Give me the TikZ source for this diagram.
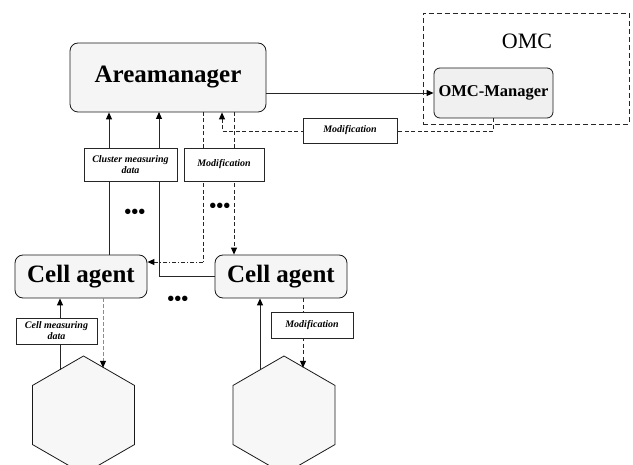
\documentclass[tikz,border=0pt]{standalone}
\usepackage{fontspec}
\setmainfont{Liberation Serif}
\usetikzlibrary{arrows.meta,shapes.geometric,calc}
\begin{document}
\begin{tikzpicture}[x=1pt,y=-1pt,
  box/.style={draw=black!90, line width=0.8pt, rounded corners=8pt, fill=black!4, inner sep=1pt},
  bigfont/.style={font=\fontsize{25}{28}\selectfont\bfseries},
  lbl/.style={draw=black!85, line width=0.8pt, fill=white, font=\fontsize{10}{11}\selectfont\bfseries\itshape, align=center, inner sep=1pt},
  solidline/.style={draw=black!85, line width=0.9pt},
  dashline/.style={draw=black!85, line width=0.9pt, dash pattern=on 4pt off 2.5pt},
  graydash/.style={draw=black!45, line width=0.9pt, dash pattern=on 4pt off 2pt},
  dashdotline/.style={draw=black!85, line width=0.9pt, dash pattern=on 4pt off 2pt on 1pt off 2pt},
  tip/.style={-{Triangle[length=7pt,width=6pt,color=black]}},
  hexa/.style={regular polygon, regular polygon sides=6, shape border rotate=30, minimum size=118pt, draw=black!90, line width=0.8pt, fill=black!3, inner sep=0pt},
  dotsfont/.style={font=\fontsize{20}{22}\selectfont\bfseries, inner sep=0pt}
]
\useasboundingbox (0,0) rectangle (633,465);

% OMC area
\node[draw=black!85, line width=0.8pt, dash pattern=on 5pt off 3pt, minimum width=206pt, minimum height=111pt] (omcbox) at (526,68.5) {};
\node[font=\fontsize{22}{26}\selectfont, inner sep=0pt] (omct) at (527,41) {OMC};
\node[box, rounded corners=6pt, minimum width=119pt, minimum height=50pt, fill=black!6, font=\fontsize{16.5}{18}\selectfont\bfseries] (omcm) at (493.5,93) {OMC-Manager};

% main nodes
\node[box, bigfont, minimum width=196pt, minimum height=69pt] (am) at (168,77.5) {Areamanager};
\node[box, bigfont, minimum width=132pt, minimum height=43pt] (cell1) at (81,276.5) {Cell agent};
\node[box, bigfont, minimum width=132pt, minimum height=43pt] (cell2) at (281,276.5) {Cell agent};
\node[hexa] (hex1) at (83.5,415) {};
\node[hexa] (hex2) at (284,415) {};

% helper coordinates
\coordinate (c2) at (222,131);
\coordinate (u1) at (109,255);
\coordinate (u2) at (159,112);
\coordinate (d1) at (203,112);
\coordinate (d1b) at (203,262);
\coordinate (d2) at (234,112);
\coordinate (h1u) at (60,369.6);
\coordinate (h1d) at (103,367.8);
\coordinate (h2u) at (260,369.6);
\coordinate (h2d) at (303,367.8);

% connectors
\draw[solidline,tip] (am.east |- omcm.west) -- (omcm.west);
\draw[dashline,tip] (omcm.south) |- (c2) -- (c2 |- am.south);
\draw[solidline,tip] (u1) -- (u1 |- am.south);
\draw[solidline,tip] (cell2.west) -| (u2);
\draw[dashline] (d1) -- (d1b);
\draw[dashdotline,tip] (d1b) -- (d1b -| cell1.east);
\draw[dashline,tip] (d2) -- (d2 |- cell2.north);
\draw[solidline,tip] (h1u) -- (h1u |- cell1.south);
\draw[graydash,tip] (h1d |- cell1.south) -- (h1d);
\draw[solidline,tip] (h2u) -- (h2u |- cell2.south);
\draw[dashline,tip] (h2d |- cell2.south) -- (h2d);

% labels
\node[lbl, minimum width=94pt, minimum height=25pt] (mod1) at (350,130.5) {Modification};
\node[lbl, minimum width=93pt, minimum height=33pt] (cmd) at (130.5,164.5) {Cluster measuring\\data};
\node[lbl, minimum width=80pt, minimum height=33pt] (mod2) at (224,164.5) {Modification};
\node[lbl, minimum width=81pt, minimum height=26pt] (cmd2) at (56.5,331) {Cell measuring\\data};
\node[lbl, minimum width=82pt, minimum height=26pt] (mod3) at (312,325) {Modification};

% dots
\node[dotsfont] (dots1) at (135,214) {•••};
\node[dotsfont] (dots2) at (220,208) {•••};
\node[dotsfont] (dots3) at (178,301) {•••};
\end{tikzpicture}
\end{document}
